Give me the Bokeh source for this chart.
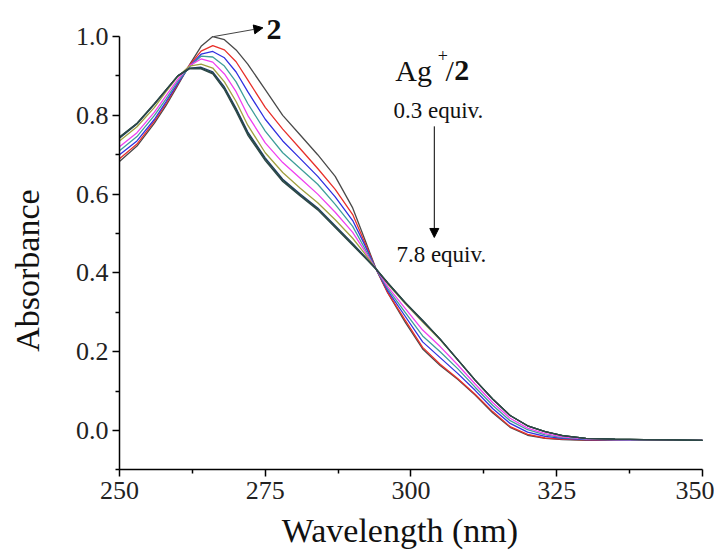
import math
from bokeh.plotting import figure
from bokeh.models import Range1d, FixedTicker, Arrow, NormalHead
from bokeh.core.properties import value
from bokeh.embed import file_html
from bokeh.resources import INLINE

wavelength = [250, 253, 256, 258, 260, 262, 264, 266, 268, 270, 272, 275, 278, 281, 284,
              287, 290, 292, 294, 296, 299, 302, 305, 308, 311, 314, 317, 320, 323, 326,
              330, 335, 340, 345, 350]

abs_free = [0.683, 0.722, 0.780, 0.825, 0.876, 0.928, 0.975, 1.000, 0.992, 0.966, 0.930, 0.865,
            0.800, 0.750, 0.700, 0.645, 0.565, 0.488, 0.410, 0.350, 0.275, 0.207, 0.165, 0.130,
            0.090, 0.045, 0.008, -0.012, -0.020, -0.023, -0.025, -0.025, -0.025, -0.025, -0.025]
abs_s1 = [0.690, 0.727, 0.785, 0.830, 0.879, 0.927, 0.963, 0.977, 0.966, 0.936, 0.890, 0.820,
          0.765, 0.715, 0.665, 0.612, 0.548, 0.480, 0.410, 0.350, 0.280, 0.211, 0.168, 0.132,
          0.092, 0.048, 0.010, -0.010, -0.019, -0.022, -0.024, -0.025, -0.025, -0.025, -0.025]
abs_s2 = [0.700, 0.735, 0.790, 0.835, 0.881, 0.924, 0.955, 0.962, 0.946, 0.910, 0.860, 0.790,
          0.735, 0.690, 0.645, 0.593, 0.533, 0.473, 0.410, 0.355, 0.290, 0.225, 0.185, 0.145,
          0.102, 0.056, 0.018, -0.004, -0.015, -0.020, -0.023, -0.024, -0.025, -0.025, -0.025]
abs_s3 = [0.710, 0.746, 0.800, 0.842, 0.886, 0.923, 0.950, 0.948, 0.925, 0.885, 0.830, 0.760,
          0.705, 0.665, 0.625, 0.574, 0.518, 0.464, 0.410, 0.360, 0.300, 0.240, 0.200, 0.157,
          0.110, 0.064, 0.025, 0.002, -0.011, -0.018, -0.022, -0.024, -0.025, -0.025, -0.025]
abs_s4 = [0.720, 0.756, 0.808, 0.850, 0.891, 0.926, 0.943, 0.935, 0.905, 0.860, 0.800, 0.730,
          0.680, 0.640, 0.600, 0.554, 0.503, 0.457, 0.410, 0.365, 0.310, 0.255, 0.213, 0.167,
          0.118, 0.071, 0.031, 0.006, -0.008, -0.016, -0.021, -0.023, -0.024, -0.025, -0.025]
abs_s5 = [0.735, 0.771, 0.820, 0.860, 0.898, 0.925, 0.930, 0.920, 0.885, 0.835, 0.775, 0.705,
          0.655, 0.615, 0.578, 0.535, 0.488, 0.450, 0.410, 0.372, 0.322, 0.275, 0.230, 0.180,
          0.128, 0.080, 0.038, 0.012, -0.003, -0.013, -0.020, -0.022, -0.023, -0.024, -0.025]
abs_s6 = [0.742, 0.778, 0.828, 0.864, 0.900, 0.920, 0.922, 0.910, 0.872, 0.818, 0.758, 0.692,
          0.638, 0.600, 0.565, 0.520, 0.475, 0.443, 0.410, 0.374, 0.324, 0.278, 0.232, 0.180,
          0.128, 0.080, 0.038, 0.012, -0.003, -0.013, -0.020, -0.022, -0.023, -0.024, -0.025]
abs_s7 = [0.744, 0.779, 0.829, 0.865, 0.900, 0.919, 0.920, 0.907, 0.868, 0.814, 0.754, 0.688,
          0.635, 0.597, 0.562, 0.517, 0.472, 0.441, 0.410, 0.375, 0.325, 0.279, 0.232, 0.180,
          0.128, 0.080, 0.038, 0.012, -0.003, -0.013, -0.020, -0.022, -0.023, -0.024, -0.025]
abs_final = [0.745, 0.780, 0.830, 0.865, 0.900, 0.918, 0.918, 0.905, 0.865, 0.810, 0.750, 0.685,
             0.632, 0.595, 0.560, 0.515, 0.470, 0.440, 0.410, 0.375, 0.325, 0.280, 0.232, 0.180,
             0.128, 0.080, 0.038, 0.012, -0.003, -0.013, -0.020, -0.022, -0.023, -0.024, -0.025]

series = [abs_free, abs_s1, abs_s2, abs_s3, abs_s4, abs_s5, abs_s6, abs_s7, abs_final]
colors = ["#4a4a4a", "#e8302a", "#3030e0", "#3f9e9a", "#f040f0", "#a0a040",
          "#1e3a6a", "#244c40", "#2f4848"]

x_ticks = [250, 275, 300, 325, 350]
x_minor = [262.5, 287.5, 312.5, 337.5]
y_ticks = [0.0, 0.2, 0.4, 0.6, 0.8, 1.0]
y_tick_labels = ["0.0", "0.2", "0.4", "0.6", "0.8", "1.0"]
y_minor = [-0.1, 0.1, 0.3, 0.5, 0.7, 0.9]

SERIF = "Liberation Serif"

# frame fills the whole canvas; axes are pinned at x=250 and y=-0.1
p = figure(width=714, height=552, output_backend="svg", toolbar_location=None,
           x_range=Range1d(229.59, 352.06), y_range=Range1d(-0.3096, 1.0914),
           min_border_left=0, min_border_right=0, min_border_top=0,
           min_border_bottom=0)
p.outline_line_color = None
p.grid.visible = False
p.background_fill_color = "white"

for ys, c in zip(series, colors):
    p.line(wavelength, ys, line_color=c, line_width=1.3)

# axes
p.xaxis.ticker = FixedTicker(ticks=x_ticks, minor_ticks=x_minor)
p.yaxis.ticker = FixedTicker(ticks=y_ticks, minor_ticks=y_minor)
p.yaxis.major_label_overrides = {t: s for t, s in zip(y_ticks, y_tick_labels)}
p.xaxis.bounds = (250, 350)
p.yaxis.bounds = (-0.1, 1.0)
p.xaxis.fixed_location = -0.1
p.yaxis.fixed_location = 250
for ax in (p.xaxis[0], p.yaxis[0]):
    ax.axis_line_color = "black"
    ax.axis_line_width = 1.5
    ax.major_tick_line_color = "black"
    ax.minor_tick_line_color = "black"
    ax.major_tick_line_width = 1.5
    ax.minor_tick_line_width = 1.5
    ax.major_tick_out = 7
    ax.major_tick_in = 0
    ax.minor_tick_out = 4
    ax.minor_tick_in = 0
    ax.major_label_text_font = SERIF
    ax.major_label_text_font_size = "26px"
    ax.major_label_text_color = "#222222"
p.xaxis.major_label_standoff = 5
p.yaxis.major_label_standoff = 4

# texts
def txt(x, y, s, size, bold=False, angle=0.0, align="left"):
    p.text(x=[x], y=[y], text=[s], text_font=value(SERIF), text_font_size=size,
           text_font_style="bold" if bold else "normal", text_baseline="middle",
           text_align=align, text_color="#111111", angle=angle)

txt(234.3, 0.406, "Absorbance", "34px", angle=math.pi / 2, align="center")
txt(298.1, -0.254, "Wavelength (nm)", "34px", align="center")
txt(297.3, 0.913, "Ag", "30px")
txt(304.6, 0.952, "+", "18px")
txt(305.9, 0.913, "/", "30px")
txt(307.4, 0.913, "2", "30px", bold=True)
txt(297.0, 0.812, "0.3 equiv.", "23px")
txt(297.5, 0.447, "7.8 equiv.", "23px")
txt(275.2, 1.018, "2", "30px", bold=True)

p.add_layout(Arrow(end=NormalHead(size=9, fill_color="black", line_color="black"),
                   x_start=304.0, y_start=0.772, x_end=304.0, y_end=0.49,
                   line_color="black", line_width=1))
p.add_layout(Arrow(end=NormalHead(size=9, fill_color="black", line_color="black"),
                   x_start=266.2, y_start=1.0, x_end=274.6, y_end=1.022,
                   line_color="#444444", line_width=1))

open("out.html", "w").write(file_html(p, INLINE))
